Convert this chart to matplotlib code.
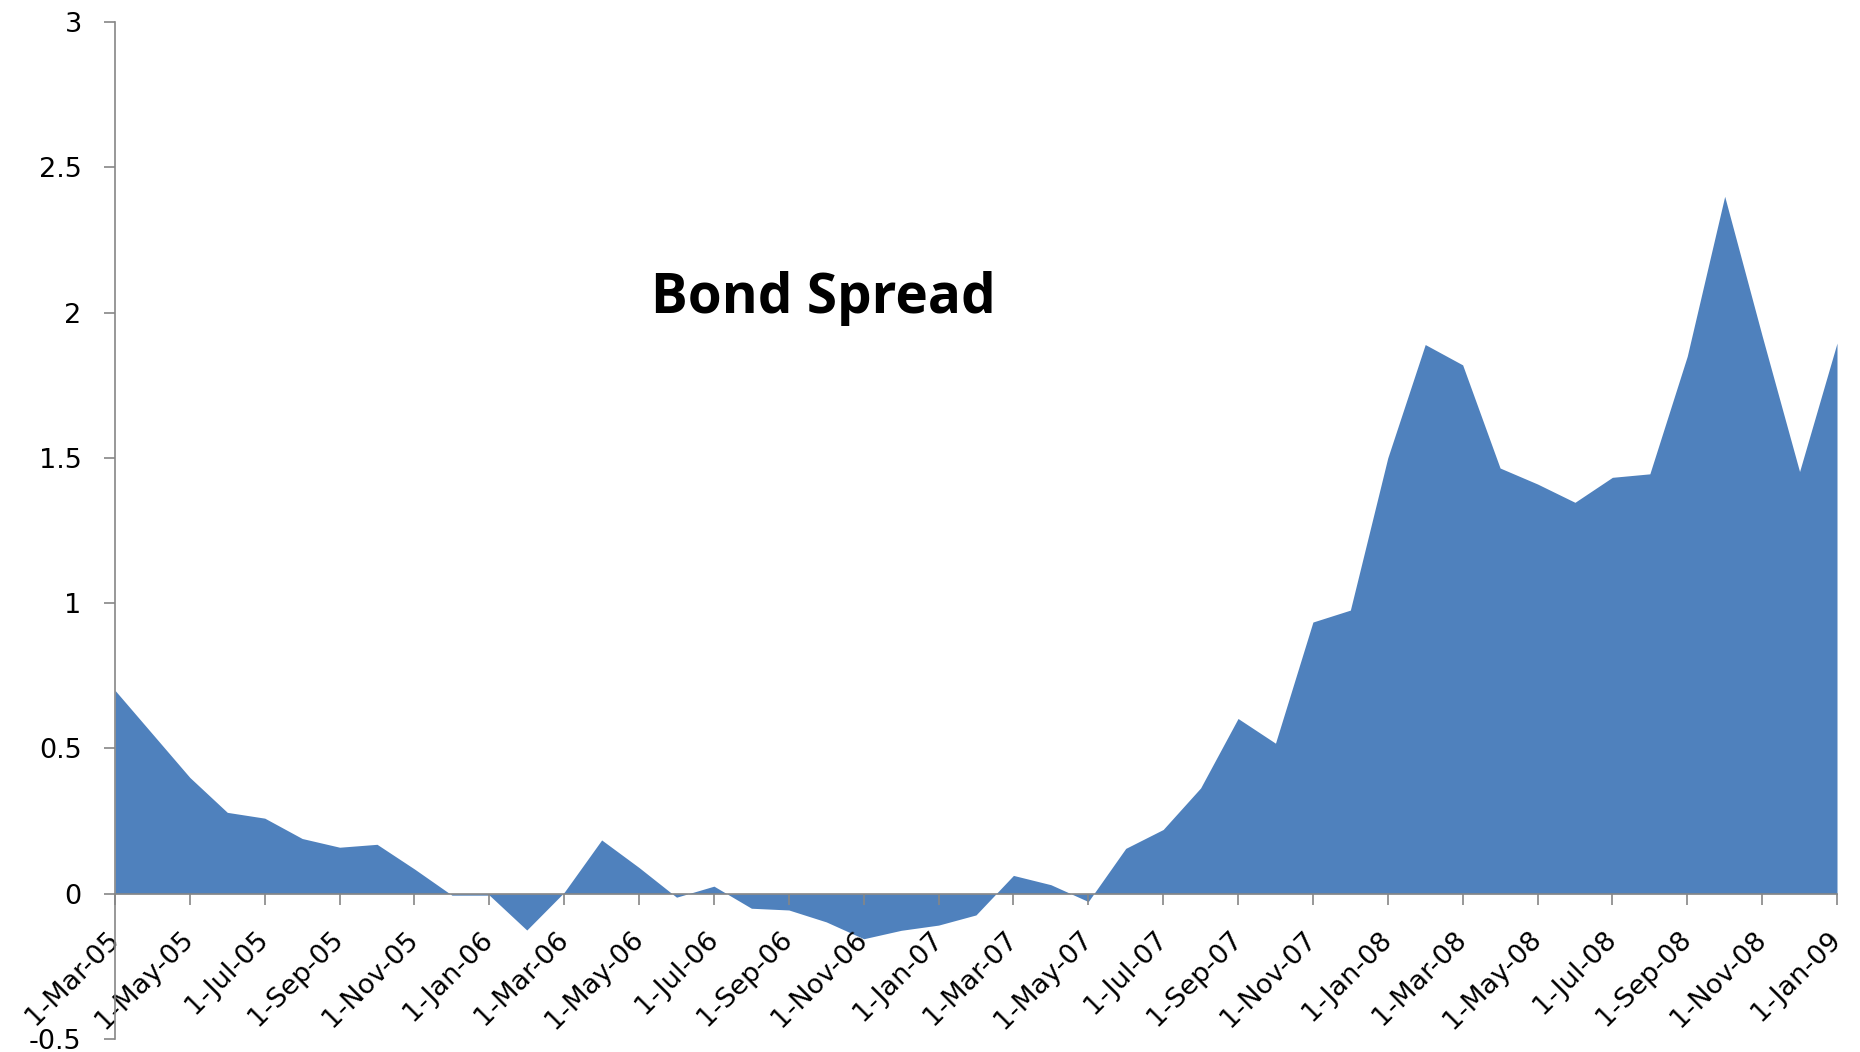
import matplotlib
matplotlib.use("Agg")
import matplotlib.pyplot as plt
import numpy as np

months = ["Mar-05", "Apr-05", "May-05", "Jun-05", "Jul-05", "Aug-05", "Sep-05", "Oct-05",
          "Nov-05", "Dec-05", "Jan-06", "Feb-06", "Mar-06", "Apr-06", "May-06", "Jun-06",
          "Jul-06", "Aug-06", "Sep-06", "Oct-06", "Nov-06", "Dec-06", "Jan-07", "Feb-07",
          "Mar-07", "Apr-07", "May-07", "Jun-07", "Jul-07", "Aug-07", "Sep-07", "Oct-07",
          "Nov-07", "Dec-07", "Jan-08", "Feb-08", "Mar-08", "Apr-08", "May-08", "Jun-08",
          "Jul-08", "Aug-08", "Sep-08", "Oct-08", "Nov-08", "Dec-08", "Jan-09"]

spread = [0.70, 0.55, 0.40, 0.28, 0.26, 0.19, 0.16, 0.17,
          0.085, -0.005, -0.005, -0.125, 0.005, 0.185, 0.09, -0.012,
          0.026, -0.05, -0.056, -0.097, -0.155, -0.126, -0.108, -0.073,
          0.063, 0.031, -0.027, 0.156, 0.221, 0.364, 0.603, 0.518,
          0.935, 0.976, 1.50, 1.89, 1.82, 1.465, 1.41, 1.347,
          1.433, 1.445, 1.85, 2.40, 1.92, 1.453, 1.895]

tick_labels = ["1-" + m for m in months[::2]]
y_ticks = [-0.5, 0, 0.5, 1, 1.5, 2, 2.5, 3]
y_tick_labels = ["-0.5", "0", "0.5", "1", "1.5", "2", "2.5", "3"]
title = "Bond Spread"

plt.rcParams['font.family'] = ['DejaVu Sans']

fig = plt.figure(figsize=(18.6, 10.52), dpi=100)
ax = fig.add_axes([115/1860, 1 - 1039/1052, (1837-115)/1860, (1039-22)/1052])

x = np.arange(len(spread))
ax.fill_between(x, spread, 0, color='#4F81BD', linewidth=0, zorder=1)

ax.set_xlim(0, len(spread) - 1)
ax.set_ylim(-0.5, 3)

gray = '#868686'
for s in ['top', 'right']:
    ax.spines[s].set_visible(False)
ax.spines['bottom'].set_position(('data', 0))
ax.spines['left'].set_color(gray)
ax.spines['bottom'].set_color(gray)
ax.spines['left'].set_linewidth(1.2)
ax.spines['bottom'].set_linewidth(1.2)

ax.set_xticks(x[::2])
ax.set_xticklabels(tick_labels)
ax.set_yticks(y_ticks)
ax.set_yticklabels(y_tick_labels)

ax.tick_params(axis='both', direction='out', length=8, width=1.2, color=gray,
               labelsize=19.5, labelcolor='black')
ax.tick_params(axis='y', pad=16)
ax.tick_params(axis='x', pad=22)
for lab in ax.get_xticklabels():
    lab.set_rotation(45)
    lab.set_ha('right')
    lab.set_va('center')
    lab.set_rotation_mode('anchor')

fig.text(823/1860, 1 - 298/1052, title, ha='center', va='center',
         fontsize=39.5, fontweight='bold', color='black', family=['Open Sans', 'DejaVu Sans'])

fig.savefig("out.png", dpi=100, facecolor='white')
